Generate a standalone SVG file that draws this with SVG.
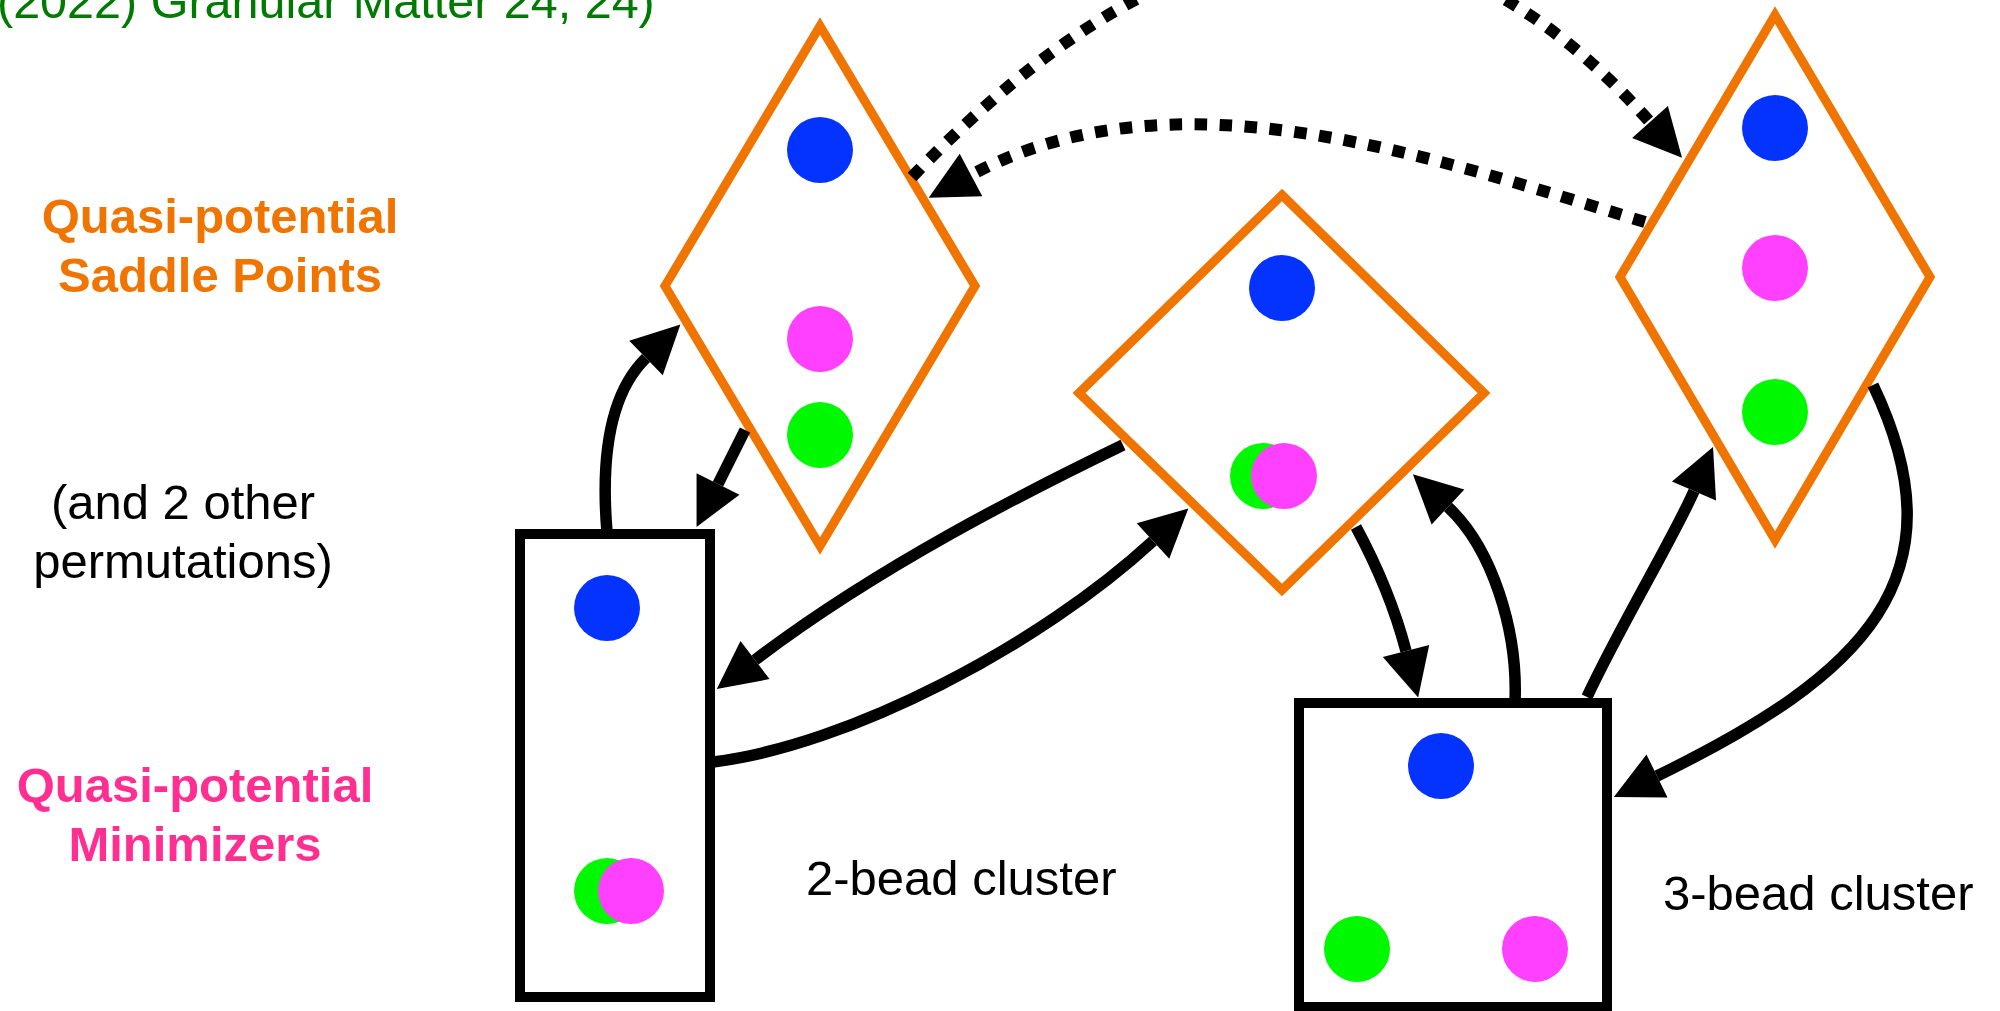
<svg xmlns="http://www.w3.org/2000/svg" width="2000" height="1011" viewBox="0 0 2000 1011">
  <style>
    .saddle { fill: #ffffff; stroke: #F07400; stroke-width: 9; stroke-linejoin: miter; }
    .minbox { fill: #ffffff; stroke: #000000; stroke-width: 10; }
    .blue { fill: #0433FF; }
    .mag { fill: #FF40FF; }
    .grn { fill: #00F900; }
    .conn { fill: none; stroke: #000000; stroke-width: 11.5; }
    .dot { fill: none; stroke: #000000; stroke-width: 12; stroke-dasharray: 12.5 12.5; }
    .lbl { font-family: "Liberation Sans", Arial, Helvetica, sans-serif; }
    .bold { font-weight: bold; font-size: 49px; }
    .reg { font-size: 49px; fill: #000000; }
  </style>
  <defs>
    <marker id="ah" markerUnits="userSpaceOnUse" markerWidth="50" markerHeight="50" refX="0" refY="24" orient="auto" overflow="visible">
      <path d="M0,0 L48,24 L0,48 z" fill="#000000"/>
    </marker>
  </defs>

  <rect x="0" y="0" width="2000" height="1011" fill="#ffffff"/>

  <g id="labels" class="lbl">
    <text id="citation" x="-3" y="18" font-size="48.5" fill="#007A00">(2022) Granular Matter 24, 24)</text>
    <text class="bold" fill="#F07400" text-anchor="middle" x="220" y="233">Quasi-potential</text>
    <text class="bold" fill="#F07400" text-anchor="middle" x="220" y="292">Saddle Points</text>
    <text class="reg" text-anchor="middle" x="183" y="519">(and 2 other</text>
    <text class="reg" text-anchor="middle" x="183" y="578">permutations)</text>
    <text class="bold" fill="#FF2F92" text-anchor="middle" x="195" y="802">Quasi-potential</text>
    <text class="bold" fill="#FF2F92" text-anchor="middle" x="195" y="861">Minimizers</text>
    <text class="reg" x="806" y="895" font-size="50">2-bead cluster</text>
    <text class="reg" x="1663" y="910" font-size="50">3-bead cluster</text>
  </g>

  <g id="saddle-left">
    <polygon class="saddle" points="820,26 975,286 820,546 665,286"/>
    <circle class="blue" cx="820" cy="150" r="33"/>
    <circle class="mag" cx="820" cy="339" r="33"/>
    <circle class="grn" cx="820" cy="435" r="33"/>
  </g>

  <g id="saddle-mid">
    <polygon class="saddle" points="1282,195 1484,393 1282,590 1079,393"/>
    <circle class="blue" cx="1282" cy="288" r="33"/>
    <circle class="grn" cx="1263" cy="476" r="33"/>
    <circle class="mag" cx="1284" cy="476" r="33"/>
  </g>

  <g id="saddle-right">
    <polygon class="saddle" points="1775,15 1930,277 1775,540 1620,277"/>
    <circle class="blue" cx="1775" cy="128" r="33"/>
    <circle class="mag" cx="1775" cy="268" r="33"/>
    <circle class="grn" cx="1775" cy="412" r="33"/>
  </g>

  <g id="min-2bead">
    <rect class="minbox" x="520" y="534" width="190" height="463"/>
    <circle class="blue" cx="607" cy="608" r="33"/>
    <circle class="grn" cx="607" cy="891" r="33"/>
    <circle class="mag" cx="631" cy="891" r="33"/>
  </g>

  <g id="min-3bead">
    <rect class="minbox" x="1299" y="703" width="308" height="304"/>
    <circle class="blue" cx="1441" cy="766" r="33"/>
    <circle class="grn" cx="1357" cy="949" r="33"/>
    <circle class="mag" cx="1535" cy="949" r="33"/>
  </g>

  <g id="connectors">
    <path class="conn" d="M607,532 C601,460 608,395 646,358" marker-end="url(#ah)"/>
    <path class="conn" stroke-width="10" d="M745,430 L718,484" marker-end="url(#ah)"/>
    <path class="conn" d="M1123,445 C1030,490 880,565 755,660" marker-end="url(#ah)"/>
    <path class="conn" d="M713,762 C850,745 1040,645 1153,541" marker-end="url(#ah)"/>
    <path class="conn" stroke-width="10.5" d="M1356,527 Q1390,590 1406,651" marker-end="url(#ah)"/>
    <path class="conn" stroke-width="10.5" d="M1515,702 C1518,630 1492,548 1448,507" marker-end="url(#ah)"/>
    <path class="conn" stroke-width="10.5" d="M1587,697 C1618,630 1675,535 1694,491" marker-end="url(#ah)"/>
    <path class="conn" d="M1873,385 C1965,578 1864,675 1657,776" marker-end="url(#ah)"/>
    <path class="dot" d="M912,177 C1188,-111 1430,-124 1650,122" marker-end="url(#ah)"/>
    <path class="dot" d="M1645,222 C1425,155 1173,67 971,175" marker-end="url(#ah)"/>
  </g>
</svg>
